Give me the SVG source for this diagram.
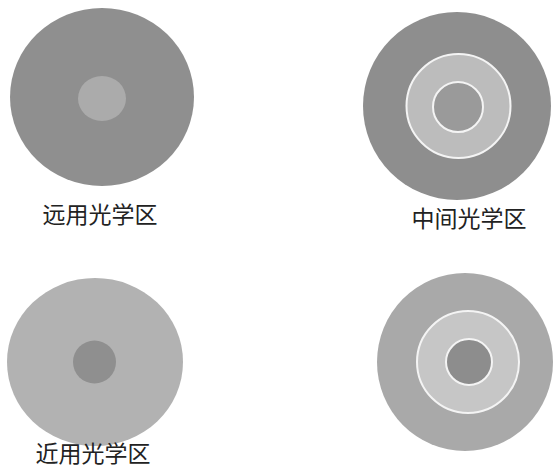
<svg xmlns="http://www.w3.org/2000/svg" width="556" height="470" viewBox="0 0 556 470">
<style>
.lbl{font-family:"Noto Sans CJK SC","Noto Sans CJK JP",sans-serif;font-size:23px;fill:#222;text-anchor:middle}
.ring{stroke:#f4f4f4;stroke-width:2}
</style>
<rect width="556" height="470" fill="#ffffff"/>
<g id="far">
<ellipse cx="102" cy="97" rx="92" ry="89" fill="#8f8f8f"/>
<ellipse cx="102" cy="98.5" rx="24" ry="22.5" fill="#ababab"/>
<text class="lbl" x="100" y="223">远用光学区</text>
</g>
<g id="mid">
<circle cx="457" cy="106" r="94" fill="#8e8e8e"/>
<circle cx="458.5" cy="106" r="52" fill="#bcbcbc" class="ring"/>
<circle cx="458" cy="107" r="25" fill="#9a9a9a" class="ring"/>
<text class="lbl" x="469" y="227">中间光学区</text>
</g>
<g id="near">
<ellipse cx="95" cy="362" rx="88" ry="84" fill="#b2b2b2"/>
<circle cx="94.5" cy="362" r="21.5" fill="#8f8f8f"/>
<text class="lbl" x="93" y="462">近用光学区</text>
</g>
<g id="multi">
<ellipse cx="465" cy="362" rx="88" ry="89" fill="#a9a9a9"/>
<circle cx="468" cy="362" r="51" fill="#c6c6c6" class="ring"/>
<circle cx="469" cy="362" r="23" fill="#8d8d8d" class="ring"/>
</g>
<g id="connectors"/>
</svg>
